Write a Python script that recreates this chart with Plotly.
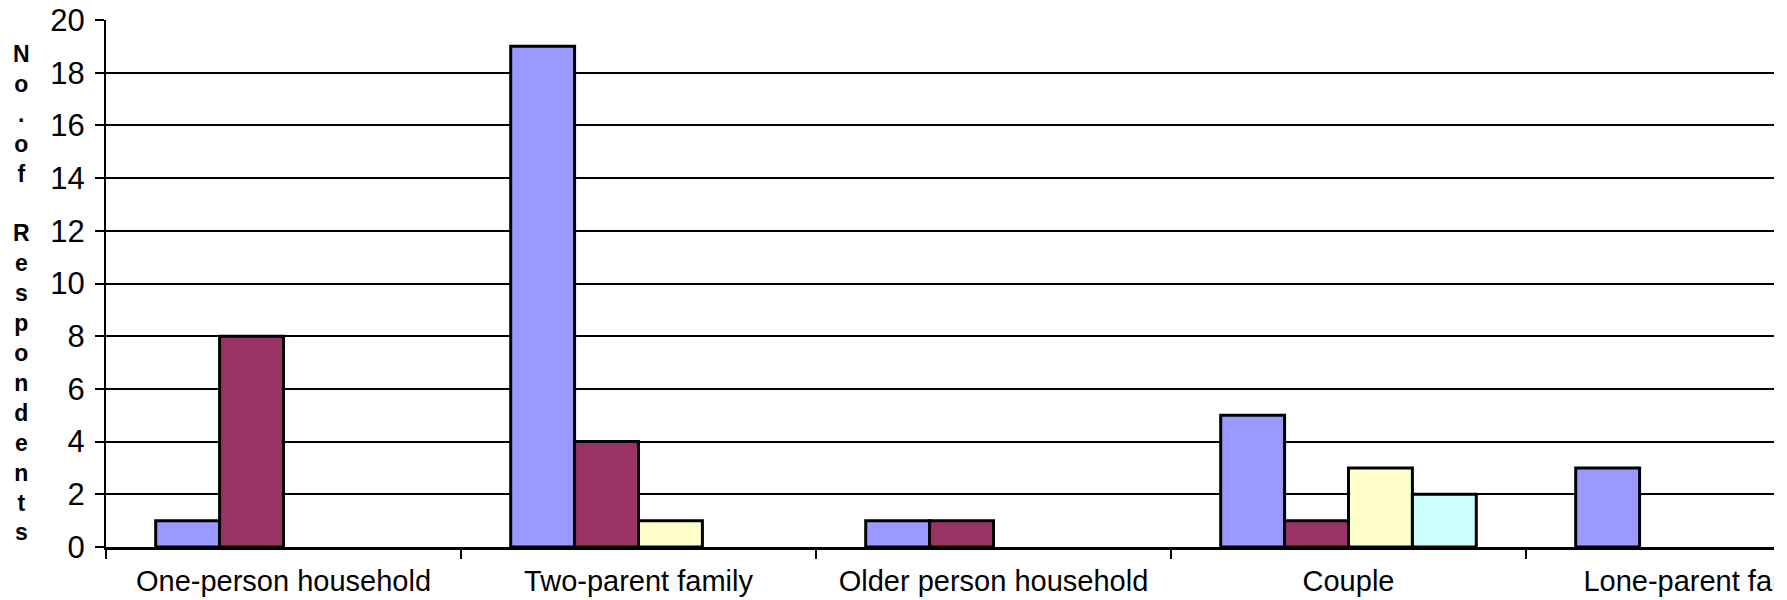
import plotly.graph_objects as go

# Household types and respondent counts per series
categories = ["One-person household", "Two-parent family", "Older person household",
              "Couple", "Lone-parent family"]
series_a = [1, 19, 1, 5, 3]
series_b = [8, 4, 1, 1, None]
series_c = [None, 1, None, 3, None]
series_d = [None, None, None, 2, None]
y_ticks = [0, 2, 4, 6, 8, 10, 12, 14, 16, 18, 20]
# axis title, stacked one character per line
y_title_lines = ["N", "o", ".", "o", "f", "", "R", "e", "s", "p", "o", "n",
                 "d", "e", "n", "t", "s"]

series = [
    ("Series A", series_a, "#9999FF"),
    ("Series B", series_b, "#993366"),
    ("Series C", series_c, "#FFFFCC"),
    ("Series D", series_d, "#CCFFFF"),
]

FONT = "Arial, 'Liberation Sans', sans-serif"

fig = go.Figure()
for name, vals, color in series:
    fig.add_trace(go.Bar(
        x=categories, y=vals, name=name,
        marker=dict(color=color, line=dict(color="#000000", width=3)),
    ))

title_text = "<br>".join(ch if ch else "\u00a0" for ch in y_title_lines)

fig.update_layout(
    width=1774, height=600,
    margin=dict(l=106, r=0, t=20, b=53, autoexpand=False),
    paper_bgcolor="white", plot_bgcolor="white",
    barmode="group", bargap=0.28, bargroupgap=0,
    showlegend=False,
    font=dict(family=FONT, color="#000000"),
    xaxis=dict(
        type="category",
        range=[-0.5, -0.5 + (1774 - 106) / 355.0],
        showgrid=False, zeroline=False,
        showline=True, linecolor="#000000", linewidth=3,
        ticks="outside", tickson="boundaries", ticklen=9, tickwidth=2, tickcolor="#000000",
        tickfont=dict(size=29, family=FONT),
        ticklabelstandoff=6,
        automargin=False,
    ),
    yaxis=dict(
        range=[0, 20], tickvals=y_ticks,
        showgrid=True, gridcolor="#000000", gridwidth=2,
        zeroline=False,
        showline=True, linecolor="#000000", linewidth=2,
        ticks="outside", ticklen=9, tickwidth=2, tickcolor="#000000",
        tickfont=dict(size=31, family=FONT),
        ticklabelstandoff=4,
        automargin=False,
    ),
    annotations=[dict(
        text="<b>" + title_text + "</b>",
        xref="paper", yref="paper", x=(21 - 106) / 1668.0, y=0.5,
        xanchor="center", yanchor="middle", yshift=-9,
        showarrow=False, align="center",
        font=dict(size=23, family=FONT, color="#000000"),
    )],
)

fig.write_html("out.html")
